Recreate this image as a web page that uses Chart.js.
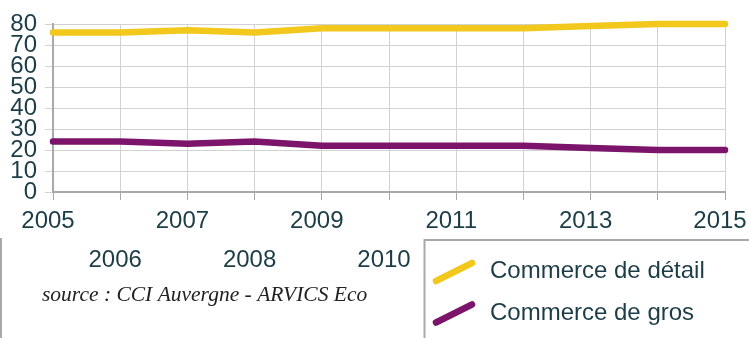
<!DOCTYPE html>
<html>
<head>
<meta charset="utf-8">
<script src="https://cdn.jsdelivr.net/npm/chart.js@4/dist/chart.umd.min.js"></script>
<style>
  html, body { margin: 0; padding: 0; background: #ffffff; }
  #wrap { width: 749px; height: 338px; position: relative; }
</style>
</head>
<body>
<div id="wrap"><canvas id="c" width="749" height="338"></canvas></div>
<script>
// Years on the horizontal axis
const years = ['2005', '2006', '2007', '2008', '2009', '2010', '2011', '2012', '2013', '2014', '2015'];
// Share (%) of each trade type
const detail = [76, 76, 77, 76, 78, 78, 78, 78, 79, 80, 80];
const gros = [24, 24, 23, 24, 22, 22, 22, 22, 21, 20, 20];
// Vertical scale
const yMin = 0;
const yMax = 80;
const yStep = 10;
const seriesNames = ['Commerce de détail', 'Commerce de gros'];
const seriesColors = ['#f2c81c', '#7c146b'];
const sourceText = 'source : CCI Auvergne - ARVICS Eco';

const TEXT = '#1c3d47';
const GRID = '#d2d2d2';
const AXIS = '#a9a9a9';
const FONT = "'Liberation Sans', Arial, sans-serif";

// Legend box, source note and frame line drawn over the chart
const overlay = {
  id: 'overlay',
  afterDraw(chart) {
    const ctx = chart.ctx;
    ctx.save();
    // left frame line of the note area
    ctx.strokeStyle = AXIS;
    ctx.lineWidth = 2;
    ctx.beginPath();
    ctx.moveTo(1, 238);
    ctx.lineTo(1, 338);
    ctx.stroke();

    // source note
    ctx.fillStyle = '#222222';
    ctx.font = "italic 21.5px 'Liberation Serif', 'Times New Roman', serif";
    ctx.textAlign = 'left';
    ctx.textBaseline = 'alphabetic';
    ctx.fillText(sourceText, 42, 301);

    // legend box
    ctx.fillStyle = '#ffffff';
    ctx.fillRect(424, 239, 330, 110);
    ctx.strokeStyle = AXIS;
    ctx.lineWidth = 2;
    ctx.beginPath();
    ctx.moveTo(424.5, 345);
    ctx.lineTo(424.5, 240);
    ctx.lineTo(760, 240);
    ctx.stroke();

    const rows = [271.5, 313];
    chart.data.datasets.forEach((ds, i) => {
      const y = rows[i];
      ctx.strokeStyle = ds.borderColor;
      ctx.lineWidth = 6.5;
      ctx.lineCap = 'round';
      ctx.beginPath();
      ctx.moveTo(436, y + 9.5);
      ctx.lineTo(472, y - 8.5);
      ctx.stroke();
      ctx.fillStyle = TEXT;
      ctx.font = '24px ' + FONT;
      ctx.textBaseline = 'middle';
      ctx.fillText(ds.label, 490, y);
    });
    ctx.restore();
  }
};

new Chart(document.getElementById('c'), {
  type: 'line',
  data: {
    labels: years,
    datasets: [
      {
        label: seriesNames[0],
        data: detail,
        borderColor: seriesColors[0],
        backgroundColor: seriesColors[0],
        borderWidth: 6.5,
        borderCapStyle: 'round',
        borderJoinStyle: 'round',
        pointRadius: 0,
        tension: 0,
        clip: false
      },
      {
        label: seriesNames[1],
        data: gros,
        borderColor: seriesColors[1],
        backgroundColor: seriesColors[1],
        borderWidth: 6.5,
        borderCapStyle: 'round',
        borderJoinStyle: 'round',
        pointRadius: 0,
        tension: 0,
        clip: false
      }
    ]
  },
  options: {
    responsive: false,
    animation: false,
    layout: { padding: { left: 10, right: 24, top: 24, bottom: 46 } },
    plugins: {
      legend: { display: false },
      tooltip: { enabled: false },
      title: { display: false }
    },
    scales: {
      x: {
        offset: false,
        grid: { color: GRID, tickLength: 8, tickColor: AXIS },
        border: { color: AXIS, width: 2 },
        ticks: {
          color: TEXT,
          font: { family: FONT, size: 24, lineHeight: 1.625 },
          padding: 1.5,
          labelOffset: -5,
          autoSkip: false,
          maxRotation: 0,
          minRotation: 0,
          callback(value, index) {
            const lbl = years[index];
            return index % 2 === 1 ? ['', lbl] : lbl;
          }
        },
        afterFit(scale) {
          scale.height = 100;
          scale.paddingLeft = 0;
          scale.paddingRight = 0;
        }
      },
      y: {
        min: yMin,
        max: yMax,
        grid: { color: GRID, tickLength: 8, tickColor: GRID },
        border: { color: AXIS, width: 2 },
        ticks: {
          stepSize: yStep,
          color: TEXT,
          font: { family: FONT, size: 24, lineHeight: 1 },
          padding: 8,
          autoSkip: false
        },
        afterFit(scale) {
          scale.width = 43;
          scale.paddingTop = 0;
          scale.paddingBottom = 0;
        }
      }
    }
  },
  plugins: [overlay]
});
</script>
</body>
</html>
